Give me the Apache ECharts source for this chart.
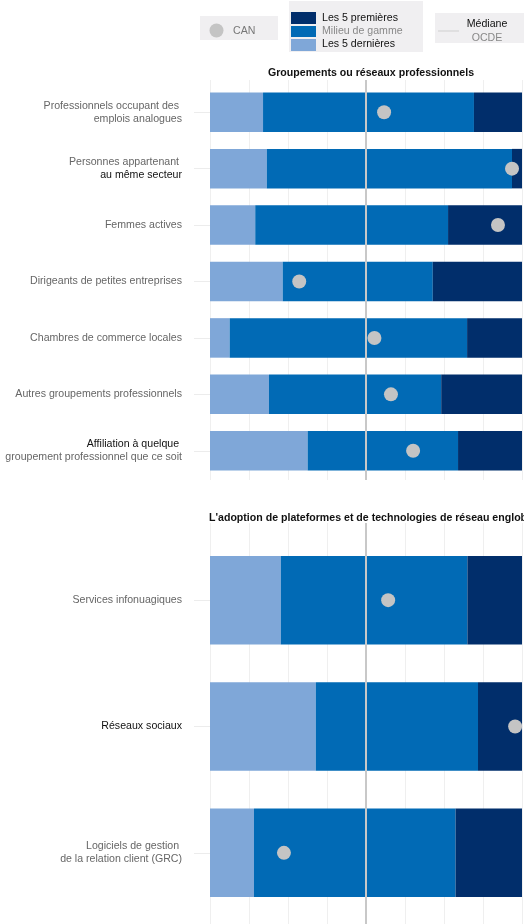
<!DOCTYPE html>
<html>
<head>
<meta charset="utf-8">
<script src="https://cdn.jsdelivr.net/npm/echarts@6/dist/echarts.min.js"></script>
<style>
  html, body { margin: 0; padding: 0; background: #fff; }
  #chart { width: 524px; height: 924px; }
</style>
</head>
<body>
<div id="chart"></div>
<script>
// values are positions on a 0-100 scale, OECD median at 50
const groupCategories = [
  "Professionnels occupant des \nemplois analogues",
  "Personnes appartenant \nau même secteur",
  "Femmes actives",
  "Dirigeants de petites entreprises",
  "Chambres de commerce locales",
  "Autres groupements professionnels",
  "Affiliation à quelque \ngroupement professionnel que ce soit",
];
const groupBottom5 = [17.0, 18.2, 14.5, 23.3, 6.3, 18.9, 31.3];
const groupMiddleEnd = [84.6, 96.8, 76.3, 71.4, 82.4, 74.1, 79.5];
const groupCan = [55.8, 96.8, 92.3, 28.6, 52.7, 58.0, 65.1];

const techCategories = [
  "Services infonuagiques",
  "Réseaux sociaux",
  "Logiciels de gestion \nde la relation client (GRC)",
];
const techBottom5 = [22.7, 33.9, 14.1];
const techMiddleEnd = [82.5, 85.9, 78.7];
const techCan = [57.1, 97.8, 23.7];

const oecdMedian = 50;
const axisMax = 100;

const sectionTitles = [
  "Groupements ou réseaux professionnels",
  "L'adoption de plateformes et de technologies de réseau englobe",
];
const darkLines = ["au même secteur", "Affiliation à quelque ", "Réseaux sociaux"];

const FONT = "'Liberation Sans', Arial, sans-serif";
const C_LIGHT = "#7fa7d8";
const C_MID = "#016ab5";
const C_DARK = "#012e6b";
const C_DOT = "#c4c4c4";

const chart = echarts.init(document.getElementById("chart"));

function labelFormatter(value) {
  return value
    .split("\n")
    .map((l) => (darkLines.includes(l) ? `{d|${l}}` : `{g|${l}}`))
    .join("\n");
}

function xAxisFor(idx, withGrid) {
  return {
    gridIndex: idx,
    type: "value",
    min: 0,
    max: axisMax,
    interval: 12.5,
    axisLabel: { show: false },
    axisLine: { show: false },
    axisTick: { show: false },
    splitLine: { show: withGrid, lineStyle: { color: "#efefef", width: 1 } },
  };
}

function yAxisFor(idx, cats) {
  return {
    gridIndex: idx,
    type: "category",
    inverse: true,
    data: cats,
    axisLine: { show: false },
    axisTick: {
      show: true,
      alignWithLabel: true,
      length: 16,
      lineStyle: { color: "#ececec" },
    },
    axisLabel: {
      margin: 28,
      fontFamily: FONT,
      formatter: labelFormatter,
      rich: {
        g: { color: "#666", fontSize: 10.6, fontFamily: FONT, lineHeight: 13 },
        d: { color: "#111", fontSize: 10.6, fontFamily: FONT, lineHeight: 13 },
      },
    },
  };
}

// hidden y axis for the background grids (gridlines + median line)
function backYAxis(idx) {
  return { gridIndex: idx, type: "value", min: 0, max: 1, show: false };
}

function seriesFor(idx, bottom5, middleEnd, can) {
  const stack = "s" + idx;
  return [
    {
      name: "Les 5 dernières",
      type: "bar",
      stack,
      xAxisIndex: idx,
      yAxisIndex: idx,
      barWidth: "70%",
      itemStyle: { color: C_LIGHT },
      data: bottom5,
    },
    {
      name: "Milieu de gamme",
      type: "bar",
      stack,
      xAxisIndex: idx,
      yAxisIndex: idx,
      itemStyle: { color: C_MID },
      data: middleEnd.map((m, i) => +(m - bottom5[i]).toFixed(1)),
    },
    {
      name: "Les 5 premières",
      type: "bar",
      stack,
      xAxisIndex: idx,
      yAxisIndex: idx,
      itemStyle: { color: C_DARK },
      data: middleEnd.map((m) => +(axisMax - m).toFixed(1)),
    },
    {
      name: "CAN",
      type: "scatter",
      xAxisIndex: idx,
      yAxisIndex: idx,
      symbolSize: 14,
      z: 6,
      itemStyle: { color: C_DOT, opacity: 1 },
      data: can.map((v, i) => [v, i]),
    },
  ];
}

function medianSeries(idx) {
  return {
    name: "Médiane OCDE",
    type: "line",
    xAxisIndex: idx,
    yAxisIndex: idx,
    symbol: "none",
    silent: true,
    z: 5,
    lineStyle: { color: "#c8c8c8", width: 2 },
    data: [[oecdMedian, 0], [oecdMedian, 1]],
  };
}

const legendText = (x, y, text, color, align) => ({
  type: "text",
  x,
  y,
  style: {
    text,
    fill: color,
    font: `10.6px ${FONT}`,
    textAlign: align || "left",
    textVerticalAlign: "middle",
  },
});

chart.setOption({
  animation: false,
  backgroundColor: "#fff",
  title: [
    {
      text: sectionTitles[0],
      left: 366,
      top: 63,
      textAlign: "center",
      textStyle: { fontFamily: FONT, fontSize: 10.6, fontWeight: "bold", color: "#111" },
    },
    {
      text: sectionTitles[1],
      left: 366,
      top: 508,
      textAlign: "center",
      textStyle: { fontFamily: FONT, fontSize: 10.6, fontWeight: "bold", color: "#111" },
    },
  ],
  grid: [
    { left: 210, right: 2, top: 84, height: 395, outerBoundsMode: "none" },
    { left: 210, right: 2, top: 537, height: 379, outerBoundsMode: "none" },
    { left: 210, right: 2, top: 80, height: 400, outerBoundsMode: "none" },
    { left: 210, right: 2, top: 523, height: 401, outerBoundsMode: "none" },
  ],
  xAxis: [xAxisFor(0, false), xAxisFor(1, false), xAxisFor(2, true), xAxisFor(3, true)],
  yAxis: [
    yAxisFor(0, groupCategories),
    yAxisFor(1, techCategories),
    backYAxis(2),
    backYAxis(3),
  ],
  series: [
    ...seriesFor(0, groupBottom5, groupMiddleEnd, groupCan),
    ...seriesFor(1, techBottom5, techMiddleEnd, techCan),
    medianSeries(2),
    medianSeries(3),
  ],
  graphic: [
    { type: "rect", shape: { x: 200, y: 16, width: 78, height: 24 }, style: { fill: "#f0eff1" } },
    { type: "circle", shape: { cx: 216.5, cy: 30.5, r: 7 }, style: { fill: C_DOT } },
    legendText(233, 31, "CAN", "#777"),

    { type: "rect", shape: { x: 289, y: 1, width: 134, height: 51 }, style: { fill: "#f0eff1" } },
    { type: "rect", shape: { x: 291, y: 12, width: 25, height: 12 }, style: { fill: C_DARK } },
    { type: "rect", shape: { x: 291, y: 26, width: 25, height: 11 }, style: { fill: C_MID } },
    { type: "rect", shape: { x: 291, y: 39, width: 25, height: 12 }, style: { fill: C_LIGHT } },
    legendText(322, 18, "Les 5 premières", "#111"),
    legendText(322, 31, "Milieu de gamme", "#888"),
    legendText(322, 44, "Les 5 dernières", "#111"),

    { type: "rect", shape: { x: 435, y: 13, width: 89, height: 30 }, style: { fill: "#f0eff1" } },
    { type: "line", shape: { x1: 438, y1: 31, x2: 459, y2: 31 }, style: { stroke: "#cfcfcf", lineWidth: 1 } },
    legendText(487, 24, "Médiane", "#111", "center"),
    legendText(487, 38, "OCDE", "#888", "center"),
  ],
});
</script>
</body>
</html>
